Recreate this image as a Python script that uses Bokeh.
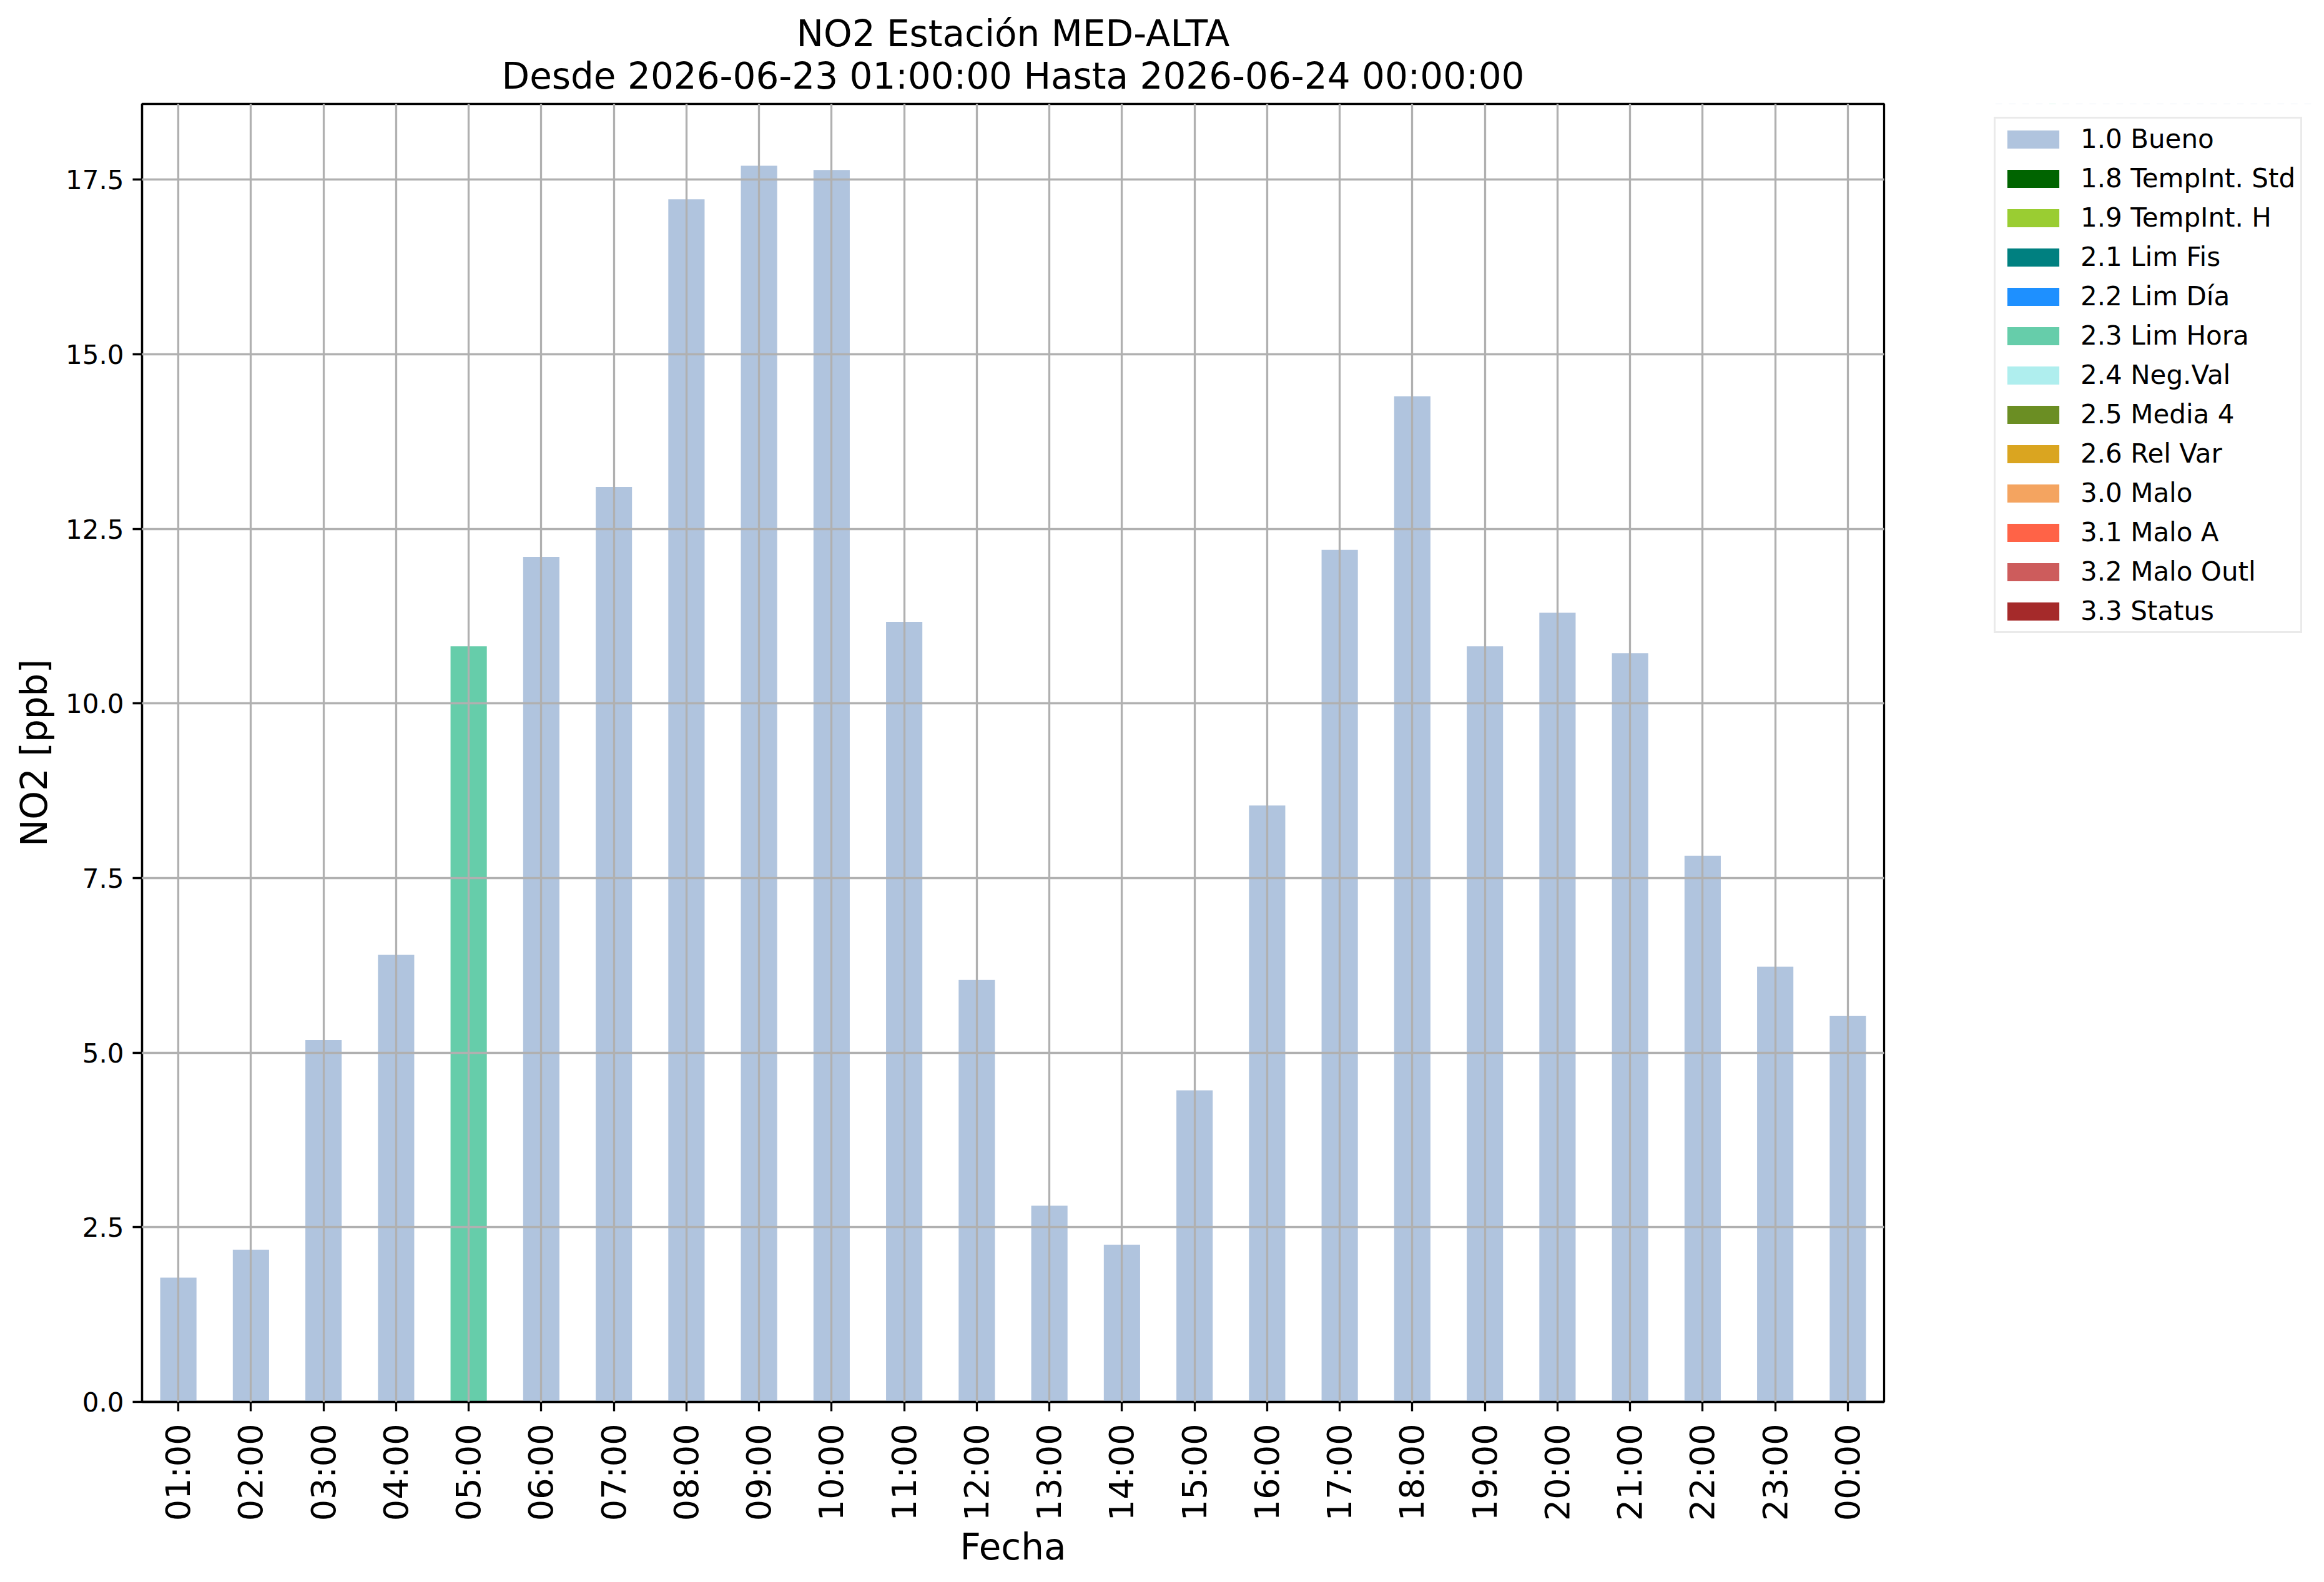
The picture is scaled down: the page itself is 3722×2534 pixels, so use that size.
import math
import numpy as np
from bokeh.plotting import figure
from bokeh.layouts import row
from bokeh.models import (ColumnDataSource, FactorRange, Range1d, FixedTicker,
                          NumeralTickFormatter, Legend, LegendItem, Title)
from bokeh.embed import file_html
from bokeh.resources import INLINE

# ---------------- data ----------------
hours = ["01:00", "02:00", "03:00", "04:00", "05:00", "06:00", "07:00", "08:00",
         "09:00", "10:00", "11:00", "12:00", "13:00", "14:00", "15:00", "16:00",
         "17:00", "18:00", "19:00", "20:00", "21:00", "22:00", "23:00", "00:00"]
no2 = [1.78, 2.18, 5.18, 6.40, 10.82, 12.10, 13.10, 17.22,
       17.70, 17.64, 11.17, 6.04, 2.81, 2.25, 4.46, 8.54,
       12.20, 14.40, 10.82, 11.30, 10.72, 7.82, 6.23, 5.53]
flags = ["1.0 Bueno", "1.0 Bueno", "1.0 Bueno", "1.0 Bueno", "2.3 Lim Hora",
         "1.0 Bueno", "1.0 Bueno", "1.0 Bueno", "1.0 Bueno", "1.0 Bueno",
         "1.0 Bueno", "1.0 Bueno", "1.0 Bueno", "1.0 Bueno", "1.0 Bueno",
         "1.0 Bueno", "1.0 Bueno", "1.0 Bueno", "1.0 Bueno", "1.0 Bueno",
         "1.0 Bueno", "1.0 Bueno", "1.0 Bueno", "1.0 Bueno"]
flag_names = ["1.0 Bueno", "1.8 TempInt. Std", "1.9 TempInt. H", "2.1 Lim Fis",
              "2.2 Lim Día", "2.3 Lim Hora", "2.4 Neg.Val", "2.5 Media 4",
              "2.6 Rel Var", "3.0 Malo", "3.1 Malo A", "3.2 Malo Outl", "3.3 Status"]
flag_colors = ["#B0C4DE", "#006400", "#9ACD32", "#008080", "#1E90FF", "#66CDAA",
               "#AFEEEE", "#6B8E23", "#DAA520", "#F4A460", "#FF6347", "#CD5C5C",
               "#A52A2A"]
y_ticks = [0.0, 2.5, 5.0, 7.5, 10.0, 12.5, 15.0, 17.5]

title_line1 = "NO2 Estación MED-ALTA"
title_line2 = "Desde 2026-06-23 01:00:00 Hasta 2026-06-24 00:00:00"
x_label = "Fecha"
y_label = "NO2 [ppb]"

FONT = "DejaVu Sans"
LW = 3.3
H = 2516
W_MAIN = 3100
W_LEG = 3706 - W_MAIN
B_TOP, B_BOTTOM = 166, 271
FRAME_H = H - B_TOP - B_BOTTOM
LEG_H = 821

# ---------------- main chart ----------------
p = figure(width=W_MAIN, height=H,
           x_range=FactorRange(factors=hours),
           y_range=Range1d(0, max(no2) * 1.05),
           output_backend="svg", toolbar_location=None, title=None,
           min_border_left=227, min_border_right=83,
           min_border_top=B_TOP, min_border_bottom=B_BOTTOM)
p.background_fill_color = "white"
p.border_fill_color = "white"
p.outline_line_color = "black"
p.outline_line_width = LW

# titles (line 2 added first so it sits next to the frame)
p.add_layout(Title(text=title_line2, align="center", text_font=FONT,
                   text_font_size="58px", text_font_style="normal",
                   text_color="black", standoff=21), "above")
p.add_layout(Title(text=title_line1, align="center", text_font=FONT,
                   text_font_size="58px", text_font_style="normal",
                   text_color="black", standoff=-25), "above")

# ---------------- legend panel (separate figure, same data) ----------------
pl = figure(width=W_LEG, height=H,
            x_range=p.x_range, y_range=Range1d(-2, -1),
            x_axis_type=None, y_axis_type=None,
            output_backend="svg", toolbar_location=None, title=None,
            min_border_left=90, min_border_right=0,
            min_border_top=B_TOP, min_border_bottom=B_BOTTOM)
pl.outline_line_color = None
pl.background_fill_color = "white"
pl.border_fill_color = "white"
pl.grid.visible = False

items = []
for name, color in zip(flag_names, flag_colors):
    tops = np.array([v if f == name else np.nan for v, f in zip(no2, flags)])
    src = ColumnDataSource(data=dict(x=hours, top=tops))
    p.vbar(x="x", top="top", width=0.5, bottom=0, source=src,
           fill_color=color, line_color=None)
    rl = pl.vbar(x="x", top="top", width=0.5, bottom=0, source=src,
                 fill_color=color, line_color=None)
    items.append(LegendItem(label=name, renderers=[rl]))

# grid (drawn over the bars, like the reference)
for g in (p.xgrid, p.ygrid):
    g.grid_line_color = "#b0b0b0"
    g.grid_line_width = LW
    g.level = "guide"
p.ygrid.ticker = FixedTicker(ticks=y_ticks[1:])

# axes
for ax in (p.xaxis[0], p.yaxis[0]):
    ax.axis_line_color = "black"
    ax.axis_line_width = LW
    ax.major_tick_line_color = "black"
    ax.major_tick_line_width = LW
    ax.major_tick_out = 15
    ax.major_tick_in = 0
    ax.minor_tick_line_color = None
    ax.major_label_text_font = FONT
    ax.major_label_text_color = "black"
    ax.axis_label_text_font = FONT
    ax.axis_label_text_font_size = "58px"
    ax.axis_label_text_font_style = "normal"
    ax.axis_label_text_color = "black"

p.yaxis[0].ticker = FixedTicker(ticks=y_ticks)
p.yaxis[0].formatter = NumeralTickFormatter(format="0.0")
p.yaxis[0].major_label_text_font_size = "42px"
p.yaxis[0].major_label_standoff = 14
p.yaxis[0].axis_label = y_label
p.yaxis[0].axis_label_standoff = 13

p.xaxis[0].major_label_orientation = math.pi / 2
p.xaxis[0].major_label_text_font_size = "54px"
p.xaxis[0].major_label_standoff = 20
p.xaxis[0].axis_label = x_label
p.xaxis[0].axis_label_standoff = 5

legend = Legend(items=items, location=(3, FRAME_H - 27 - LEG_H),
                label_text_font=FONT, label_text_font_size="42px",
                label_text_color="black",
                glyph_width=104, glyph_height=36, label_standoff=24,
                spacing=14, padding=8, margin=0,
                border_line_color="#d6d6d6", border_line_width=LW,
                background_fill_color="white", background_fill_alpha=0.8)
pl.add_layout(legend, "center")

layout = row(p, pl)
open("out.html", "w").write(file_html(layout, INLINE))
